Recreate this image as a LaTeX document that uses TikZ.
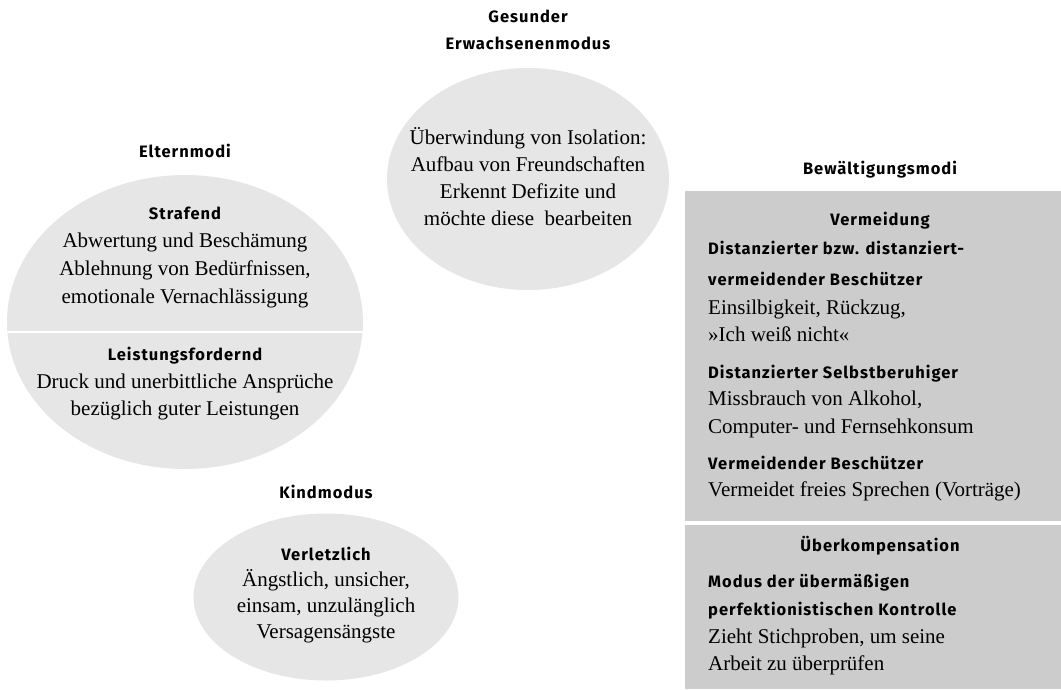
\documentclass[tikz,border=0pt]{standalone}
\usepackage{fontspec}
\setmainfont{Liberation Serif}
\newfontfamily\hfont[LetterSpace=6]{Fira Sans}
\usetikzlibrary{shapes.geometric}
\definecolor{ellgray}{HTML}{E6E6E6}
\definecolor{boxgray}{HTML}{CCCCCC}
\tikzset{
  oval/.style={ellipse, fill=ellgray, draw=none, inner sep=0},
  panel/.style={rectangle, fill=boxgray, draw=none, inner sep=0, anchor=north west},
  head/.style={font=\hfont\bfseries\fontsize{16.5}{19}\selectfont, inner sep=0, anchor=mid},
  body/.style={font=\fontsize{21}{25}\selectfont, inner sep=0, anchor=mid},
  lhead/.style={head, anchor=mid west},
  lbody/.style={body, anchor=mid west},
}
\begin{document}
\begin{tikzpicture}[x=1pt,y=-1pt]
\useasboundingbox (0,0) rectangle (1061,689);
% ellipses
\node[oval, minimum width=282, minimum height=222] (ge) at (528,179) {};
\node[oval, minimum width=356, minimum height=294] (el) at (185,322) {};
\node[oval, minimum width=265, minimum height=167] (ki) at (326,597) {};
\begin{scope}
  \clip (185,322) ellipse [x radius=178, y radius=147];
  \coordinate (dl) at (0,332);
  \coordinate (dr) at (370,332);
  \draw[white, line width=2.5pt] (dl) -- (dr);
\end{scope}
% panels
\node[panel, minimum width=376, minimum height=330] (vm) at (685,191) {};
\node[panel, minimum width=376, minimum height=164] (uk) at (685,525) {};
% Gesunder Erwachsenenmodus
\node[head] (g1) at (528,20) {Gesunder};
\node[head] (g2) at (528,47) {Erwachsenenmodus};
\node[body] (g3) at (528,142) {Überwindung von Isolation:};
\node[body] (g4) at (528,169) {Aufbau von Freundschaften};
\node[body] (g5) at (528,196) {Erkennt Defizite und};
\node[body] (g6) at (528,223) {möchte diese\ \ bearbeiten};
% Elternmodi
\node[head] (e0) at (185,155) {Elternmodi};
\node[head] (e1) at (185,217) {Strafend};
\node[body] (e2) at (185,245) {Abwertung und Beschämung};
\node[body] (e3) at (185,273) {Ablehnung von Bedürfnissen,};
\node[body] (e4) at (185,301) {emotionale Vernachlässigung};
\node[head] (e5) at (185,358) {Leistungsfordernd};
\node[body] (e6) at (185,386) {Druck und unerbittliche Ansprüche};
\node[body] (e7) at (185,413) {bezüglich guter Leistungen};
% Kindmodus
\node[head] (k0) at (326,496) {Kindmodus};
\node[head] (k1) at (326,558) {Verletzlich};
\node[body] (k2) at (326,584) {Ängstlich, unsicher,};
\node[body] (k3) at (326,610) {einsam, unzulänglich};
\node[body] (k4) at (326,636) {Versagensängste};
% Bewältigungsmodi
\node[head] (b0) at (880,172) {Bewältigungsmodi};
\node[head] (b1) at (880,223) {Vermeidung};
\node[lhead] (b2) at (708,252) {Distanzierter bzw. distanziert-};
\node[lhead] (b3) at (708,283) {vermeidender Beschützer};
\node[lbody] (b4) at (708,312) {Einsilbigkeit, Rückzug,};
\node[lbody] (b5) at (708,339) {»Ich weiß nicht«};
\node[lhead] (b6) at (708,376) {Distanzierter Selbstberuhiger};
\node[lbody] (b7) at (708,403) {Missbrauch von Alkohol,};
\node[lbody] (b8) at (708,431) {Computer- und Fernsehkonsum};
\node[lhead] (b9) at (708,467) {Vermeidender Beschützer};
\node[lbody] (b10) at (708,494) {Vermeidet freies Sprechen (Vorträge)};
\node[head] (u0) at (880,549) {Überkompensation};
\node[lhead] (u1) at (708,585) {Modus der übermäßigen};
\node[lhead] (u2) at (708,613) {perfektionistischen Kontrolle};
\node[lbody] (u3) at (708,641) {Zieht Stichproben, um seine};
\node[lbody] (u4) at (708,668) {Arbeit zu überprüfen};
\end{tikzpicture}
\end{document}
